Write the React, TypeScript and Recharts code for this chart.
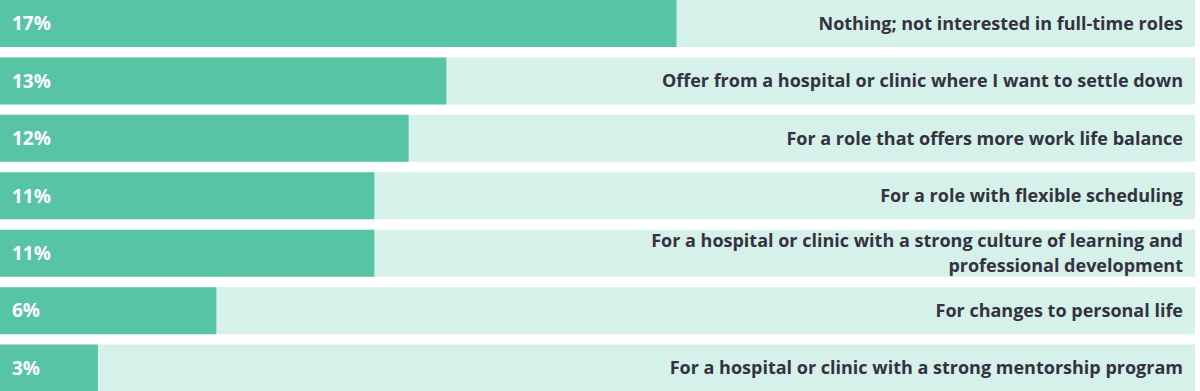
import { BarChart, Bar, XAxis, YAxis, LabelList } from "recharts";

/* reasons, top to bottom */
const categories = [
  "Nothing; not interested in full-time roles",
  "Offer from a hospital or clinic where I want to settle down",
  "For a role that offers more work life balance",
  "For a role with flexible scheduling",
  "For a hospital or clinic with a strong culture of learning and\nprofessional development",
  "For changes to personal life",
  "For a hospital or clinic with a strong mentorship program",
];

/* printed share labels */
const shareLabels = ["17%", "13%", "12%", "11%", "11%", "6%", "3%"];

/* bar lengths as drawn in the picture (share units) */
const shareValues = [19.7, 13, 11.9, 10.9, 10.9, 6.3, 2.85];

const data = categories.map((name, i) => ({
  name,
  value: shareValues[i],
  label: shareLabels[i],
}));

const W = 1195;
const H = 402;
const FONT = "'Open Sans', Lato, sans-serif";

/* right-aligned category text, drawn on top of the track */
function CategoryLabel(props: any) {
  const { y, height, value } = props;
  const lines: string[] = String(value).split("\n");
  const lh = 25;
  const cy = y + height / 2;
  const start = cy - ((lines.length - 1) * lh) / 2;
  const x = W - 12;
  return (
    <text
      textAnchor="end"
      fill="#33333f"
      fontFamily={FONT}
      fontWeight={700}
      fontSize={18}
    >
      {lines.map((l, i) => (
        <tspan key={i} x={x} y={start + i * lh} dy="0.35em">
          {l}
        </tspan>
      ))}
    </text>
  );
}

export default function App() {
  return (
    <div style={{ position: "absolute", left: 0, top: -5 }}>
      <BarChart
        width={W}
        height={H}
        data={data}
        layout="vertical"
        margin={{ top: 0, right: 0, bottom: 0, left: 0 }}
        barSize={47}
      >
        <XAxis type="number" hide domain={[0, 34.8]} />
        <YAxis type="category" dataKey="name" hide />
        <Bar
          dataKey="value"
          fill="#58c4a6"
          background={{ fill: "#d6f0ea" }}
          isAnimationActive={false}
        >
          <LabelList
            dataKey="label"
            position="insideLeft"
            offset={12}
            fill="#ffffff"
            fontFamily={FONT}
            fontWeight={700}
            fontSize={19}
          />
          <LabelList dataKey="name" content={<CategoryLabel />} />
        </Bar>
      </BarChart>
    </div>
  );
}
